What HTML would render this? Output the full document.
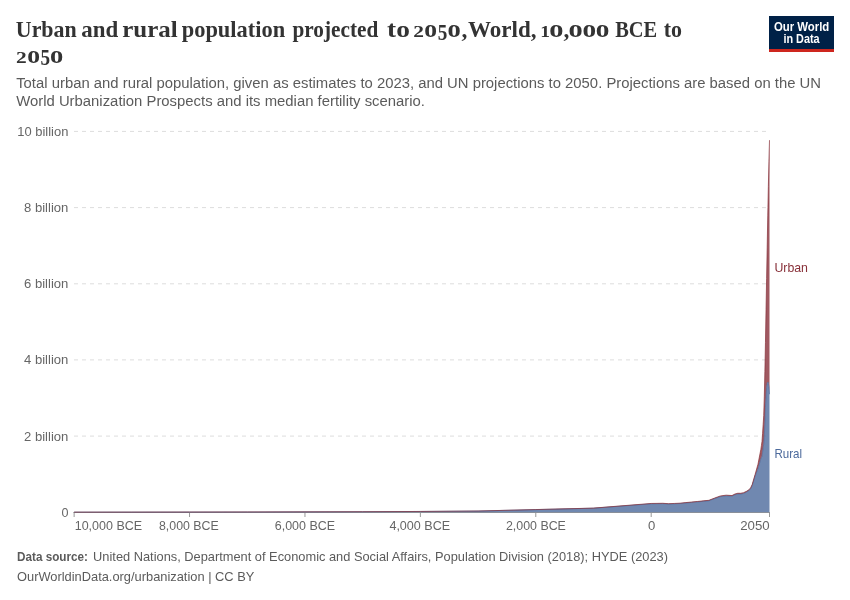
<!DOCTYPE html>
<html><head><meta charset="utf-8"><style>
html,body{margin:0;padding:0;background:#fff;width:850px;height:600px;overflow:hidden}
svg{display:block;will-change:transform}
text{font-family:"Liberation Sans",sans-serif}
.ttl{font-family:"Liberation Serif",serif;font-weight:bold;fill:#333}
.sub{font-size:15.3px;fill:#5b5b5b}
.ax{font-size:13px;fill:#666}
.ft{font-size:13px;fill:#5b5b5b}
</style></head><body>
<svg width="850" height="600" viewBox="0 0 850 600">
<rect width="850" height="600" fill="#fff"/>
<text x="15.8" y="36.8" class="ttl" font-size="23.5" textLength="60.9" lengthAdjust="spacingAndGlyphs">Urban</text>
<text x="81.20" y="36.8" class="ttl" font-size="23.5" textLength="36.98" lengthAdjust="spacingAndGlyphs">and</text>
<text x="122.18" y="36.8" class="ttl" font-size="23.5" textLength="55.47" lengthAdjust="spacingAndGlyphs">rural</text>
<text x="181.71" y="36.8" class="ttl" font-size="23.5" textLength="103.48" lengthAdjust="spacingAndGlyphs">population</text>
<text x="292.47" y="36.8" class="ttl" font-size="23.5" textLength="85.75" lengthAdjust="spacingAndGlyphs">projected</text>
<text x="387.08" y="36.8" class="ttl" font-size="23.5" textLength="22.81" lengthAdjust="spacingAndGlyphs">to</text>
<text class="ttl" font-size="20" transform="translate(413.28,36.90) scale(1.072,0.869)">2</text>
<text class="ttl" font-size="20" transform="translate(424.25,36.85) scale(1.279,1.240)">o</text>
<text class="ttl" font-size="20" transform="translate(437.83,39.57) scale(0.957,1.143)">5</text>
<text class="ttl" font-size="20" transform="translate(447.52,36.85) scale(1.326,1.240)">o</text>
<text class="ttl" font-size="20" transform="translate(540.23,36.90) scale(0.978,0.848)">1</text>
<text class="ttl" font-size="20" transform="translate(549.25,36.85) scale(1.420,1.240)">o</text>
<text class="ttl" font-size="20" transform="translate(568.45,36.85) scale(1.420,1.240)">o</text>
<text class="ttl" font-size="20" transform="translate(582.39,36.85) scale(1.362,1.240)">o</text>
<text class="ttl" font-size="20" transform="translate(595.79,36.85) scale(1.362,1.240)">o</text>
<text x="461.6" y="36.8" class="ttl" font-size="23.5">,</text>
<text x="467.98" y="36.8" class="ttl" font-size="23.5" textLength="68.48" lengthAdjust="spacingAndGlyphs">World,</text>
<text x="563.4" y="36.8" class="ttl" font-size="23.5">,</text>
<text x="615.13" y="36.8" class="ttl" font-size="23.5" textLength="42.00" lengthAdjust="spacingAndGlyphs">BCE</text>
<text x="663.63" y="36.8" class="ttl" font-size="23.5" textLength="18.28" lengthAdjust="spacingAndGlyphs">to</text>
<text class="ttl" font-size="20" transform="translate(16.08,62.70) scale(1.072,0.884)">2</text>
<text class="ttl" font-size="20" transform="translate(27.25,62.65) scale(1.279,1.260)">o</text>
<text class="ttl" font-size="20" transform="translate(40.53,65.37) scale(0.957,1.150)">5</text>
<text class="ttl" font-size="20" transform="translate(49.92,62.65) scale(1.326,1.260)">o</text>
<text x="16.2" y="87.8" class="sub" textLength="804.8" lengthAdjust="spacingAndGlyphs">Total urban and rural population, given as estimates to 2023, and UN projections to 2050. Projections are based on the UN</text>
<text x="16.2" y="105.6" class="sub" textLength="408.8" lengthAdjust="spacingAndGlyphs">World Urbanization Prospects and its median fertility scenario.</text>
<g>
<rect x="769" y="16" width="65" height="36" fill="#002147"/>
<rect x="769" y="49" width="65" height="3" fill="#ce261e"/>
<text x="801.6" y="30.8" text-anchor="middle" font-size="12.3" font-weight="bold" fill="#fff" textLength="55.4" lengthAdjust="spacingAndGlyphs">Our World</text>
<text x="801.5" y="42.8" text-anchor="middle" font-size="12.3" font-weight="bold" fill="#fff" textLength="36.2" lengthAdjust="spacingAndGlyphs">in Data</text>
</g>
<text x="61.40" y="516.70" class="ax" textLength="7.0" lengthAdjust="spacingAndGlyphs">0</text>
<line x1="74" x2="766" y1="436.1" y2="436.1" stroke="#ddd" stroke-dasharray="4,4"/>
<text x="24.00" y="440.52" class="ax" textLength="44.4" lengthAdjust="spacingAndGlyphs">2 billion</text>
<line x1="74" x2="766" y1="359.9" y2="359.9" stroke="#ddd" stroke-dasharray="4,4"/>
<text x="24.00" y="364.34" class="ax" textLength="44.4" lengthAdjust="spacingAndGlyphs">4 billion</text>
<line x1="74" x2="766" y1="283.8" y2="283.8" stroke="#ddd" stroke-dasharray="4,4"/>
<text x="24.00" y="288.16" class="ax" textLength="44.4" lengthAdjust="spacingAndGlyphs">6 billion</text>
<line x1="74" x2="766" y1="207.6" y2="207.6" stroke="#ddd" stroke-dasharray="4,4"/>
<text x="24.00" y="211.98" class="ax" textLength="44.4" lengthAdjust="spacingAndGlyphs">8 billion</text>
<line x1="74" x2="766" y1="131.4" y2="131.4" stroke="#ddd" stroke-dasharray="4,4"/>
<text x="17.30" y="135.80" class="ax" textLength="51.1" lengthAdjust="spacingAndGlyphs">10 billion</text>

<line x1="74.13" x2="74.13" y1="512" y2="517" stroke="#999" stroke-width="1"/>
<text x="74.70" y="530.3" class="ax" textLength="67.4" lengthAdjust="spacingAndGlyphs">10,000 BCE</text>
<line x1="189.54" x2="189.54" y1="512" y2="517" stroke="#999" stroke-width="1"/>
<text x="159.00" y="530.3" class="ax" textLength="59.7" lengthAdjust="spacingAndGlyphs">8,000 BCE</text>
<line x1="304.96" x2="304.96" y1="512" y2="517" stroke="#999" stroke-width="1"/>
<text x="274.75" y="530.3" class="ax" textLength="60.3" lengthAdjust="spacingAndGlyphs">6,000 BCE</text>
<line x1="420.37" x2="420.37" y1="512" y2="517" stroke="#999" stroke-width="1"/>
<text x="389.40" y="530.3" class="ax" textLength="60.8" lengthAdjust="spacingAndGlyphs">4,000 BCE</text>
<line x1="535.79" x2="535.79" y1="512" y2="517" stroke="#999" stroke-width="1"/>
<text x="505.90" y="530.3" class="ax" textLength="60.0" lengthAdjust="spacingAndGlyphs">2,000 BCE</text>
<line x1="651.20" x2="651.20" y1="512" y2="517" stroke="#999" stroke-width="1"/>
<text x="647.90" y="530.3" class="ax" textLength="7.3" lengthAdjust="spacingAndGlyphs">0</text>
<line x1="769.50" x2="769.50" y1="512" y2="517" stroke="#999" stroke-width="1"/>
<text x="740.20" y="530.3" class="ax" textLength="29.5" lengthAdjust="spacingAndGlyphs">2050</text>

<line x1="73.4" x2="769.5" y1="512.5" y2="512.5" stroke="#999" stroke-width="1"/>
<path d="M74.13,512.14 L131.83,512.09 L189.54,512.03 L247.25,511.95 L304.96,511.85 L362.66,511.70 L420.37,511.48 L478.08,511.03 L535.79,509.61 L593.49,508.19 L651.20,503.82 L656.97,503.74 L662.74,503.63 L668.51,504.04 L674.28,503.82 L680.05,503.52 L685.82,502.98 L691.60,502.43 L697.37,501.92 L703.14,501.33 L708.91,500.78 L714.68,498.59 L720.45,496.58 L726.22,495.85 L731.99,496.21 L734.88,494.75 L737.76,494.02 L740.65,494.02 L743.53,493.47 L746.42,492.19 L749.30,490.36 L750.75,488.53 L752.19,485.61 L755.07,476.10 L757.96,468.87 L760.84,458.88 L761.42,457.59 L762.00,456.22 L762.58,452.19 L763.15,448.07 L763.73,444.12 L764.31,436.12 L764.88,422.79 L765.46,407.17 L766.04,396.89 L766.61,387.75 L767.19,383.17 L767.77,382.41 L767.94,382.03 L768.35,383.17 L768.92,386.60 L769.50,394.22 L769.50,512.30 L74.13,512.30 Z" fill="#4c6a9c" fill-opacity="0.8"/>
<path d="M74.13,512.13 L131.83,512.09 L189.54,512.03 L247.25,511.94 L304.96,511.84 L362.66,511.69 L420.37,511.46 L478.08,511.00 L535.79,509.56 L593.49,508.11 L651.20,503.46 L656.97,503.39 L662.74,503.27 L668.51,503.69 L674.28,503.46 L680.05,503.16 L685.82,502.59 L691.60,502.02 L697.37,501.48 L703.14,500.87 L708.91,500.30 L714.68,498.02 L720.45,495.92 L726.22,495.16 L731.99,495.54 L734.88,494.02 L737.76,493.25 L740.65,493.25 L743.53,492.68 L746.42,491.35 L749.30,489.45 L750.75,487.54 L752.19,484.49 L755.07,474.59 L757.96,464.31 L760.84,449.45 L761.42,445.64 L762.00,441.45 L762.58,433.45 L763.15,424.69 L763.73,415.55 L764.31,396.89 L764.88,371.37 L765.46,342.42 L766.04,309.28 L766.61,278.43 L767.19,247.19 L767.77,215.20 L767.94,207.58 L768.35,186.63 L768.92,161.87 L769.50,140.16 L769.50,394.22 L768.92,386.60 L768.35,383.17 L767.94,382.03 L767.77,382.41 L767.19,383.17 L766.61,387.75 L766.04,396.89 L765.46,407.17 L764.88,422.79 L764.31,436.12 L763.73,444.12 L763.15,448.07 L762.58,452.19 L762.00,456.22 L761.42,457.59 L760.84,458.88 L757.96,468.87 L755.07,476.10 L752.19,485.61 L750.75,488.53 L749.30,490.36 L746.42,492.19 L743.53,493.47 L740.65,494.02 L737.76,494.02 L734.88,494.75 L731.99,496.21 L726.22,495.85 L720.45,496.58 L714.68,498.59 L708.91,500.78 L703.14,501.33 L697.37,501.92 L691.60,502.43 L685.82,502.98 L680.05,503.52 L674.28,503.82 L668.51,504.04 L662.74,503.63 L656.97,503.74 L651.20,503.82 L593.49,508.19 L535.79,509.61 L478.08,511.03 L420.37,511.48 L362.66,511.70 L304.96,511.85 L247.25,511.95 L189.54,512.03 L131.83,512.09 L74.13,512.14 Z" fill="#883039" fill-opacity="0.8"/>
<path d="M74.13,512.14 L131.83,512.09 L189.54,512.03 L247.25,511.95 L304.96,511.85 L362.66,511.70 L420.37,511.48 L478.08,511.03 L535.79,509.61 L593.49,508.19 L651.20,503.82 L656.97,503.74 L662.74,503.63 L668.51,504.04 L674.28,503.82 L680.05,503.52 L685.82,502.98 L691.60,502.43 L697.37,501.92 L703.14,501.33 L708.91,500.78 L714.68,498.59 L720.45,496.58 L726.22,495.85 L731.99,496.21 L734.88,494.75 L737.76,494.02 L740.65,494.02 L743.53,493.47 L746.42,492.19 L749.30,490.36 L750.75,488.53 L752.19,485.61 L755.07,476.10 L757.96,468.87 L760.84,458.88 L761.42,457.59 L762.00,456.22 L762.58,452.19 L763.15,448.07 L763.73,444.12 L764.31,436.12 L764.88,422.79 L765.46,407.17 L766.04,396.89 L766.61,387.75 L767.19,383.17 L767.77,382.41 L767.94,382.03 L768.35,383.17 L768.92,386.60 L769.50,394.22" fill="none" stroke="#4c6a9c" stroke-width="1" stroke-opacity="0.7"/>
<path d="M74.13,512.13 L131.83,512.09 L189.54,512.03 L247.25,511.94 L304.96,511.84 L362.66,511.69 L420.37,511.46 L478.08,511.00 L535.79,509.56 L593.49,508.11 L651.20,503.46 L656.97,503.39 L662.74,503.27 L668.51,503.69 L674.28,503.46 L680.05,503.16 L685.82,502.59 L691.60,502.02 L697.37,501.48 L703.14,500.87 L708.91,500.30 L714.68,498.02 L720.45,495.92 L726.22,495.16 L731.99,495.54 L734.88,494.02 L737.76,493.25 L740.65,493.25 L743.53,492.68 L746.42,491.35 L749.30,489.45 L750.75,487.54 L752.19,484.49 L755.07,474.59 L757.96,464.31 L760.84,449.45 L761.42,445.64 L762.00,441.45 L762.58,433.45 L763.15,424.69 L763.73,415.55 L764.31,396.89 L764.88,371.37 L765.46,342.42 L766.04,309.28 L766.61,278.43 L767.19,247.19 L767.77,215.20 L767.94,207.58 L768.35,186.63 L768.92,161.87 L769.50,140.16" fill="none" stroke="#883039" stroke-width="1" stroke-opacity="0.7"/>
<text x="774.4" y="272" font-size="13" fill="#883039" textLength="33.6" lengthAdjust="spacingAndGlyphs">Urban</text>
<text x="774.4" y="458" font-size="13" fill="#4c6a9c" textLength="27.6" lengthAdjust="spacingAndGlyphs">Rural</text>
<text x="17" y="561" class="ft" font-weight="bold" textLength="71" lengthAdjust="spacingAndGlyphs">Data source:</text>
<text x="93.1" y="561" class="ft" textLength="574.9" lengthAdjust="spacingAndGlyphs">United Nations, Department of Economic and Social Affairs, Population Division (2018); HYDE (2023)</text>
<text x="17" y="580.7" class="ft" textLength="237.3" lengthAdjust="spacingAndGlyphs">OurWorldinData.org/urbanization | CC BY</text>
</svg>
</body></html>
